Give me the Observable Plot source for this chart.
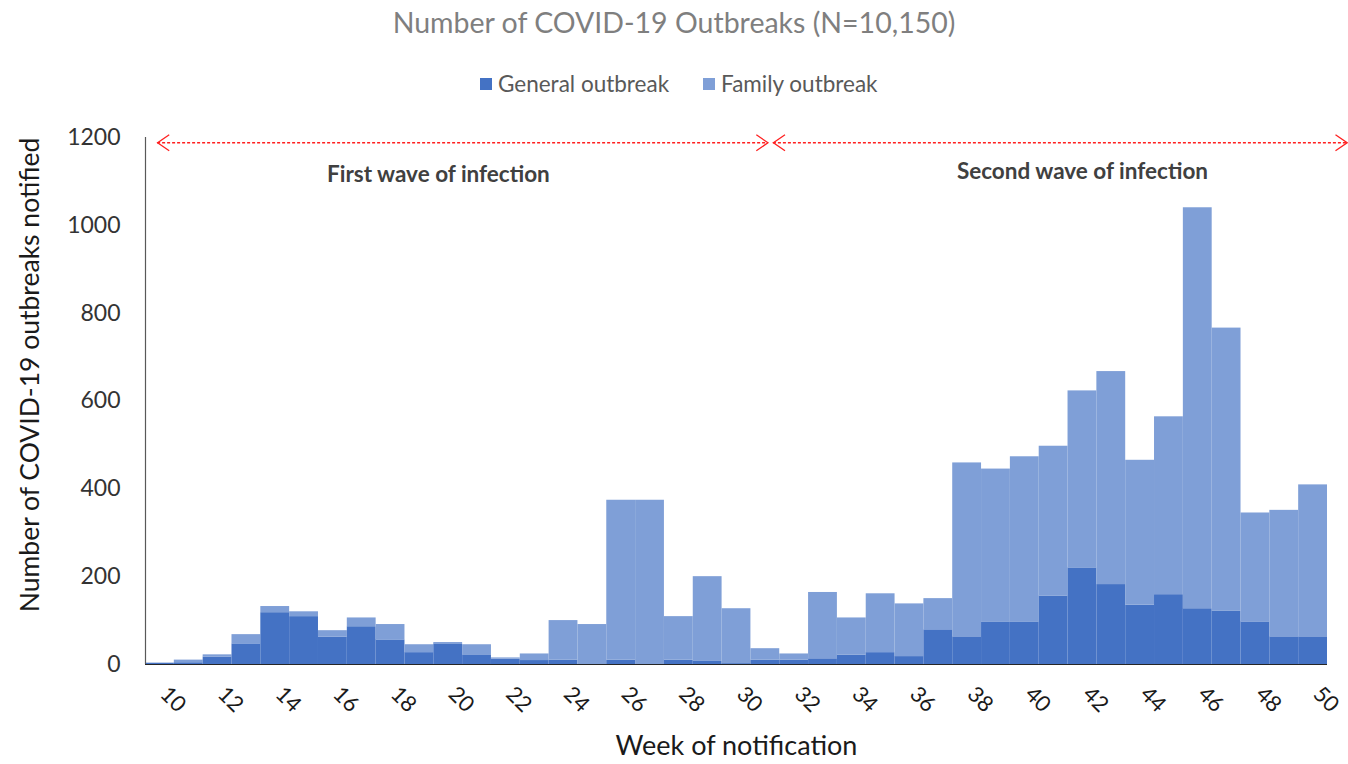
<!DOCTYPE html>
<html><head><meta charset="utf-8">
<script src="https://cdn.jsdelivr.net/npm/d3@7"></script>
<script src="https://cdn.jsdelivr.net/npm/@observablehq/plot@0.6"></script>
<style>
body{margin:0;background:#fff;font-family:Lato,"Open Sans",sans-serif;}
#wrap{position:relative;width:1348px;}
#title{height:44px;line-height:44px;text-align:center;font-size:28.5px;color:#7f7f7f;}
#legend{position:relative;height:78px;font-size:22.5px;color:#595959;}
.item{position:absolute;top:27px;height:26px;line-height:26px;display:flex;align-items:center;}
.sw{width:12px;height:12px;margin-right:6px;display:inline-block;}
</style></head>
<body><div id="wrap">
<div id="title">Number of COVID-19 Outbreaks (N=10,150)</div>
<div id="legend"></div>
<div id="chart"></div>
</div>
<script>
const weeks = [10,11,12,13,14,15,16,17,18,19,20,21,22,23,24,25,26,27,28,29,30,31,32,33,34,35,36,37,38,39,40,41,42,43,44,45,46,47,48,49,50];
const generalOutbreak = [3,4,17,47,118,109,62,86,56,27,47,22,12,9,10,0,10,0,10,7,2,10,10,13,21,27,18,79,63,97,97,156,220,182,135,159,127,121,97,63,63];
const familyOutbreak = [0,6,5,21,14,11,15,20,35,18,3,23,3,15,90,91,364,374,99,193,125,26,14,151,85,134,120,71,396,348,376,341,403,485,330,405,913,645,248,288,346];
const seriesNames = ["General outbreak","Family outbreak"];
const seriesColors = ["#4472C4","#7F9FD7"];
const xTicks = [10,12,14,16,18,20,22,24,26,28,30,32,34,36,38,40,42,44,46,48,50];
const yTicks = [0,200,400,600,800,1000,1200];
const waves = [
  {name:"First wave of infection", start:9.92, end:31.09, labelX:19.66, labelY:1116},
  {name:"Second wave of infection", start:31.28, end:51.18, labelX:42.0, labelY:1123}
];
const arrowLevel = 1188;

const rows = [];
weeks.forEach((w,i)=>{
  const g = generalOutbreak[i], f = familyOutbreak[i];
  rows.push({week:w, type:seriesNames[0], y1:0, y2:g});
  rows.push({week:w, type:seriesNames[1], y1:g, y2:g+f});
});

const chevL = {draw(ctx,size){const s=Math.sqrt(size/Math.PI);ctx.moveTo(s*1.45,-s);ctx.lineTo(0,0);ctx.lineTo(s*1.45,s);}};
const chevR = {draw(ctx,size){const s=Math.sqrt(size/Math.PI);ctx.moveTo(-s*1.45,-s);ctx.lineTo(0,0);ctx.lineTo(-s*1.45,s);}};

// legend
const leg = document.getElementById("legend");
[480,703].forEach((left,i)=>{
  const d=document.createElement("div");d.className="item";d.style.left=left+"px";
  d.innerHTML=`<span class="sw" style="background:${seriesColors[i]}"></span>${seriesNames[i]}`;
  leg.appendChild(d);
});

const chart = Plot.plot({
  width:1348, height:642,
  marginTop:15, marginBottom:100, marginLeft:145, marginRight:21,
  x:{domain:[9.5,50.5], axis:null},
  y:{domain:[0,1200], axis:null},
  color:{domain:seriesNames, range:seriesColors},
  style:{fontFamily:"Lato, 'Open Sans', sans-serif", background:"white", overflow:"visible"},
  marks:[
    Plot.rect(rows,{x1:d=>d.week-0.5, x2:d=>d.week+0.5, y1:"y1", y2:"y2", fill:"type"}),
    Plot.ruleY([0],{stroke:"#262626", strokeWidth:1.2}),
    Plot.ruleX([9.5],{y1:0, y2:1200, stroke:"#595959", strokeWidth:1.2}),
    Plot.axisY({ticks:yTicks, tickSize:0, tickPadding:25, tickFormat:d=>String(d), fontSize:23, color:"#333333", label:null}),
    Plot.text(xTicks,{x:d=>d, text:d=>String(d), frameAnchor:"bottom", dx:8, dy:40, rotate:45, fontSize:22, fill:"#1a1a1a"}),
    Plot.text(["Week of notification"],{frameAnchor:"bottom", textAnchor:"middle", dy:90, fontSize:27, fill:"#1a1a1a"}),
    Plot.text(["Number of COVID-19 outbreaks notified"],{frameAnchor:"left", textAnchor:"middle", dx:-115, dy:-26, rotate:-90, fontSize:26.5, fill:"#1a1a1a"}),
    Plot.ruleY(waves,{y:()=>arrowLevel, x1:"start", x2:"end", stroke:"#FF2020", strokeWidth:1.3, strokeDasharray:"3,2"}),
    Plot.dot(waves,{x:"start", y:()=>arrowLevel, symbol:chevL, r:8, stroke:"#FF2020", fill:"none", strokeWidth:1.3}),
    Plot.dot(waves,{x:"end", y:()=>arrowLevel, symbol:chevR, r:8, stroke:"#FF2020", fill:"none", strokeWidth:1.3}),
    Plot.text(waves,{x:"labelX", y:"labelY", text:"name", fontSize:22.5, fontWeight:"bold", fill:"#404040"})
  ]
});
document.getElementById("chart").appendChild(chart);
</script>
</body></html>
